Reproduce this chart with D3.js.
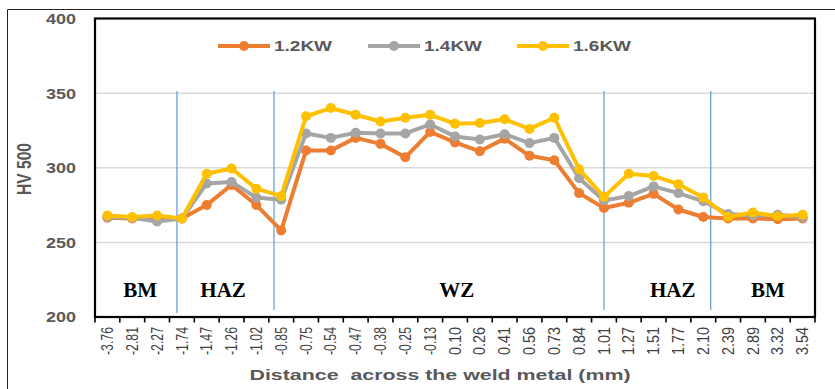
<!DOCTYPE html>
<html>
<head>
<meta charset="utf-8">
<script src="https://cdn.jsdelivr.net/npm/d3@7"></script>
<style>
  html, body { margin: 0; padding: 0; background: #fff; }
  svg { display: block; }
</style>
</head>
<body>
<svg id="chart" width="835" height="389"></svg>
<script>
const categories = ["-3.76","-2.81","-2.27","-1.74","-1.47","-1.26","-1.02","-0.85","-0.75","-0.54","-0.47","-0.38","-0.25","-0.13","0.10","0.26","0.41","0.56","0.73","0.84","1.01","1.27","1.51","1.77","2.10","2.39","2.89","3.32","3.54"];
const kw12 = [266.5,266,266,266,275,288.5,275,258,311.5,311.5,320,316,307,324,317,311,319.5,308,305,283,273,276.5,282.5,272,267,266,266,265.5,266];
const kw14 = [267,266.5,264,266,289.5,290.5,280,278.5,323,320,323.5,323,323,329,321,319,322.5,316.5,320,293,278,281,287.5,283,277.5,269,268,268.5,267];
const kw16 = [268,267,268,266,296,299.5,286,281,334.5,340,335.5,331,333.5,335.5,329.5,330,332.5,326,333.5,299,280.5,296,294.5,289,280,267,270,267.5,268.5];
const seriesNames = ["1.2KW","1.4KW","1.6KW"];
const yTicks = [200,250,300,350,400];
const zoneLabels = ["BM","HAZ","WZ","HAZ","BM"];

const colors = ["#ED7D31","#A5A5A5","#FFC000"];
const seriesVals = [kw12, kw14, kw16];

const svg = d3.select("#chart");
const L = 95, R = 815, T = 18.5, B = 317;

const x = d3.scaleBand().domain(categories).range([L, R]).padding(0);
const y = d3.scaleLinear().domain([200, 400]).range([B, T]);
const bw = x.step();

// outer frame
svg.append("path").attr("d", `M7.5,389 L7.5,9.5 L835,9.5`).attr("fill","none").attr("stroke","#222").attr("stroke-width",1);

// gridlines
svg.append("g").selectAll("line").data(yTicks.filter(v => v > 200 && v < 400)).join("line")
  .attr("x1", L).attr("x2", R).attr("y1", d => y(d)).attr("y2", d => y(d))
  .attr("stroke", "#d9d9d9").attr("stroke-width", 1.5);

// y axis labels
const yAxis = d3.axisLeft(y).tickValues(yTicks).tickSize(0).tickPadding(0);
const gy = svg.append("g").attr("transform", `translate(76,0)`).call(yAxis);
gy.select(".domain").remove();
gy.selectAll("text")
  .attr("font-family", "'Liberation Sans', Arial, sans-serif")
  .attr("font-weight", "bold").attr("font-size", 14).attr("fill", "#595959")
  .attr("textLength", 30).attr("lengthAdjust", "spacingAndGlyphs")
  .attr("dy", "0.35em");

// zone dividers (band-index positions)
const dividerPos = [3.30, 7.21, 20.5, 24.8];
const dividerBottoms = [313, 310, 310, 310];
svg.append("g").selectAll("line").data(dividerPos).join("line")
  .attr("x1", d => L + d * bw).attr("x2", d => L + d * bw)
  .attr("y1", 91).attr("y2", (d, i) => dividerBottoms[i])
  .attr("stroke", "#5B9BD5").attr("stroke-width", 1.2);

// zone labels
const zoneX = [1.82, 5.16, 14.57, 23.27, 27.1];
svg.append("g").selectAll("text").data(zoneLabels).join("text")
  .attr("x", (d, i) => L + zoneX[i] * bw).attr("y", 297)
  .attr("text-anchor", "middle")
  .attr("font-family", "'Liberation Serif', 'Times New Roman', serif")
  .attr("font-weight", "bold").attr("font-size", 21).attr("fill", "#000")
  .text(d => d);

// series
const line = d3.line().x((d, i) => x(categories[i]) + bw / 2).y(d => y(d));
seriesVals.forEach((vals, s) => {
  const g = svg.append("g");
  g.append("path").datum(vals).attr("d", line).attr("fill", "none")
    .attr("stroke", colors[s]).attr("stroke-width", 4).attr("stroke-linejoin", "round");
  g.selectAll("circle").data(vals).join("circle")
    .attr("cx", (d, i) => x(categories[i]) + bw / 2).attr("cy", d => y(d))
    .attr("r", 5).attr("fill", colors[s]);
});

// plot frame
svg.append("rect").attr("x", L).attr("y", T).attr("width", R - L).attr("height", B - T)
  .attr("fill", "none").attr("stroke", "#000").attr("stroke-width", 2.2);

// x axis labels
const xAxis = d3.axisBottom(x).tickSize(0).tickPadding(0);
const gx = svg.append("g").attr("transform", `translate(0,${B})`).call(xAxis);
gx.select(".domain").remove();
gx.selectAll("text")
  .attr("font-family", "'Liberation Sans', Arial, sans-serif")
  .attr("font-size", 16).attr("fill", "#404040")
  .attr("text-anchor", "end")
  .attr("transform", "rotate(-90)")
  .attr("x", -10).attr("y", 0).attr("dy", "0.35em")
  .attr("textLength", 28).attr("lengthAdjust", "spacingAndGlyphs");

// boundary ticks
svg.append("g").selectAll("line").data(d3.range(categories.length + 1)).join("line")
  .attr("x1", d => L + d * bw).attr("x2", d => L + d * bw)
  .attr("y1", B).attr("y2", B + 5.5)
  .attr("stroke", "#000").attr("stroke-width", 1.6);

// axis titles
svg.append("text").attr("x", 440).attr("y", 380).attr("text-anchor", "middle")
  .attr("font-family", "'Liberation Sans', Arial, sans-serif")
  .attr("font-weight", "bold").attr("font-size", 15.5).attr("fill", "#595959")
  .style("white-space", "pre")
  .attr("textLength", 381).attr("lengthAdjust", "spacingAndGlyphs")
  .text("Distance  across the weld metal (mm)");

svg.append("text").attr("transform", "translate(31,169) rotate(-90)")
  .attr("text-anchor", "middle")
  .attr("font-family", "'Liberation Sans', Arial, sans-serif")
  .attr("font-weight", "bold").attr("font-size", 21).attr("fill", "#595959")
  .attr("textLength", 52).attr("lengthAdjust", "spacingAndGlyphs")
  .text("HV 500");

// legend
const legX = [218, 368, 517];
const lg = svg.append("g").selectAll("g").data(seriesNames).join("g")
  .attr("transform", (d, i) => `translate(${legX[i]},46)`);
lg.append("line").attr("x1", 0).attr("x2", 52).attr("y1", 0).attr("y2", 0)
  .attr("stroke", (d, i) => colors[i]).attr("stroke-width", 4);
lg.append("circle").attr("cx", 26).attr("cy", 0).attr("r", 5).attr("fill", (d, i) => colors[i]);
lg.append("text").attr("x", 56).attr("y", 0).attr("dy", "0.36em")
  .attr("font-family", "'Liberation Sans', Arial, sans-serif")
  .attr("font-weight", "bold").attr("font-size", 14).attr("fill", "#595959")
  .attr("textLength", 58).attr("lengthAdjust", "spacingAndGlyphs")
  .text(d => d);
</script>
</body>
</html>
